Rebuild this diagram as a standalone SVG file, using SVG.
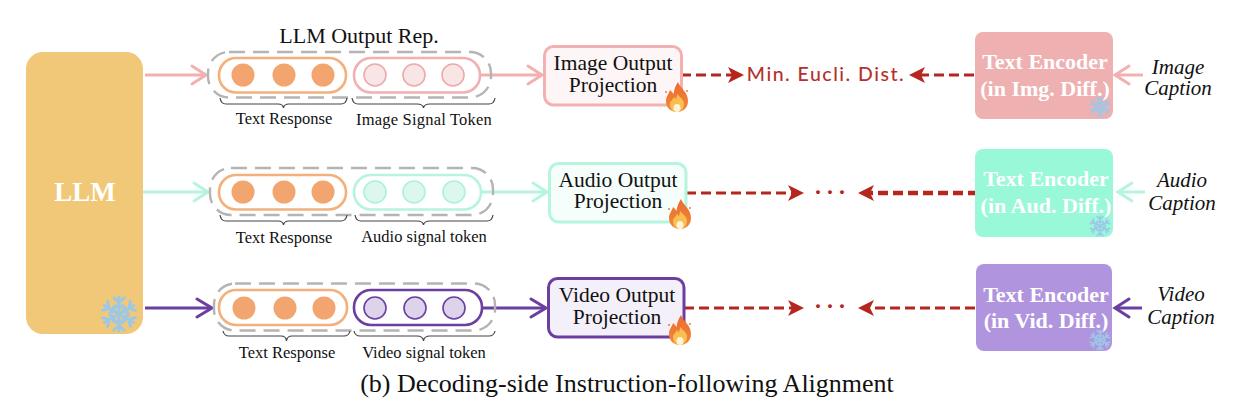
<svg xmlns="http://www.w3.org/2000/svg" width="1250" height="420" viewBox="0 0 1250 420">
<style>
text{font-family:"Liberation Serif","Times New Roman",serif;fill:#111}
.t{font-size:21.5px;text-anchor:middle}
.lbl{font-size:16.5px;text-anchor:middle}
.cap{font-size:21px;font-style:italic;text-anchor:middle}
.enc{font-size:22px;font-weight:bold;fill:#fff;text-anchor:middle}
.outer{fill:none;stroke:#b4b4b4;stroke-width:2.4;stroke-dasharray:16 8}
.pill{fill:#fff;stroke-width:2.6}
.tp{stroke:#f4b07c}.td{fill:#f2a56e}
.brace{fill:none;stroke:#444;stroke-width:1.2}
.p{stroke:#f2b0b0}.pd{fill:#f8e6e6;stroke:#eea9a9;stroke-width:1.6}
.g{stroke:#b4f5dc}.gd{fill:#dcf7ef;stroke:#abf2da;stroke-width:1.6}
.v{stroke:#6a3fa0}.vd{fill:#ddd4ec;stroke:#6a3fa0;stroke-width:1.6}
.box{stroke-width:3}
.ar{fill:none;stroke-width:3}
.rd{fill:none;stroke:#b5261e;stroke-width:3.2;stroke-dasharray:10 5}
.dots{font-size:24px;fill:#b5261e;text-anchor:middle;font-weight:bold;letter-spacing:4px}
.chev{fill:none;stroke-width:3;stroke-linecap:round}
.rh{fill:#b5261e}
.sf{fill:none;stroke:#9cc8e8;stroke-linecap:round}
</style>
<defs>
<g id="snow">
<g id="arm"><path d="M0 0V-10M0 -6.500L-3 -9.500M0 -6.500L3 -9.500M0 -3L-2 -5M0 -3L2 -5"/></g>
<use href="#arm" transform="rotate(60)"/><use href="#arm" transform="rotate(120)"/><use href="#arm" transform="rotate(180)"/><use href="#arm" transform="rotate(240)"/><use href="#arm" transform="rotate(300)"/>
</g>
<linearGradient id="fl" x1="0" y1="0" x2="0" y2="1"><stop offset="0" stop-color="#ee6a2c"/><stop offset="1" stop-color="#f08a3c"/></linearGradient>
<g id="fire">
<path d="M1 -16C3 -10 11 -6 11 3C11 10 6 14 0 14C-6 14 -11 10 -11 3C-11 -2 -8 -4 -7 -8C-5 -6 -4 -5 -3.500 -4C-3 -9 -1 -13 1 -16Z" fill="url(#fl)"/>
<path d="M0.500 -4C2 -1 7 1 7 6C7 11 3 14 0 14C-4 14 -7 11 -7 6C-7 3 -4 2 -3 -1C-2 0 -1 1 -1 2C-1 0 0 -2 .5 -4Z" fill="#f9bf4f"/>
<ellipse cx="0" cy="10" rx="3.500" ry="4" fill="#fdf3d8"/>
<circle cx="-11" cy="-6" r="1" fill="#ee7a40"/><circle cx="10" cy="-7" r="1" fill="#ee7a40"/>
</g>
<g id="tdots"><circle cx="243" cy="0" r="11.500" class="td"/><circle cx="284" cy="0" r="11.500" class="td"/><circle cx="323" cy="0" r="11.500" class="td"/></g>
</defs>

<g id="connectors">
<path class="ar p" d="M145 75H205"/><path class="chev p" d="M192 66L206 75L192 84"/>
<path class="ar p" d="M481 75H541"/><path class="chev p" d="M528 66L542 75L528 84"/>
<path class="ar g" d="M143 192H207"/><path class="chev g" d="M194 183L208 192L194 201"/>
<path class="ar g" d="M481 192H546"/><path class="chev g" d="M533 183L547 192L533 201"/>
<path class="ar v" d="M145 308H211"/><path class="chev v" d="M197 299L212 308L197 317"/>
<path class="ar v" d="M482 308H545"/><path class="chev v" d="M531 299L546 308L531 317"/>
<path class="ar p" d="M1143 75H1117"/><path class="chev p" d="M1129 66L1115 75L1129 84"/>
<path class="ar g" d="M1145 192H1120"/><path class="chev g" d="M1132 183L1118 192L1132 201"/>
<path class="ar v" d="M1142 308H1117"/><path class="chev v" d="M1129 299L1115 308L1129 317"/>

<path class="rd" d="M681 75H733"/><path class="rh" d="M744 75L728 67L732 75L728 83Z"/>
<path class="rd" d="M974 75H920"/><path class="rh" d="M909 75L925 67L921 75L925 83Z"/>
<path class="rd" d="M686 193H795"/><path class="rh" d="M804 193L788 185L792 193L788 201Z"/>
<path class="rd" style="stroke-width:4.500" d="M978 193H868"/><path class="rh" d="M858 193L874 185L870 193L874 201Z"/>
<path class="rd" d="M684 308H795"/><path class="rh" d="M804 308L788 300L792 308L788 316Z"/>
<path class="rd" d="M975 308H868"/><path class="rh" d="M858 308L874 300L870 308L874 316Z"/>
</g>

<g id="llm">
<rect x="26" y="52" width="117" height="282" rx="17" fill="#f0c878"/>
<text x="85" y="201" text-anchor="middle" style="font-size:27px;font-weight:bold;fill:#fff">LLM</text>
<use href="#snow" class="sf" style="stroke-width:1.700" transform="translate(119 314) scale(1.700)"/>
</g>

<g id="rep-image">
<text x="359" y="43" text-anchor="middle" style="font-size:22px">LLM Output Rep.</text>
<rect class="outer" x="208" y="52" width="283" height="45.500" rx="21"/>
<rect class="pill tp" x="219" y="58" width="127" height="34.500" rx="17"/>
<use href="#tdots" y="75"/>
<rect class="pill p" x="354" y="58" width="126" height="34.500" rx="17"/>
<circle class="pd" cx="375" cy="75" r="11"/><circle class="pd" cx="414" cy="75" r="11"/><circle class="pd" cx="453" cy="75" r="11"/>
<path class="brace" d="M220 98Q221 104 226 104H278Q283 104 283.500 108Q284 104 289 104H341Q346 104 347 98M352 98Q353 104 358 104H417Q423 104 423.500 108Q424 104 430 104H489Q494 104 495 98"/>
<text class="lbl" x="284" y="124">Text Response</text>
<text class="lbl" x="424" y="125" style="letter-spacing:.2px">Image Signal Token</text>
</g>

<g id="rep-audio">
<rect class="outer" x="210" y="168" width="283" height="47" rx="21"/>
<rect class="pill tp" x="219" y="175" width="127" height="34.500" rx="17"/>
<use href="#tdots" y="192"/>
<rect class="pill g" x="354" y="175" width="127" height="34.500" rx="17"/>
<circle class="gd" cx="375" cy="192" r="11"/><circle class="gd" cx="414" cy="192" r="11"/><circle class="gd" cx="454" cy="192" r="11"/>
<path class="brace" d="M220 215Q221 221 226 221H278Q283 221 283.500 225Q284 221 289 221H341Q346 221 347 215M355 215Q356 221 361 221H417Q423 221 423.500 225Q424 221 430 221H487Q492 221 493 215"/>
<text class="lbl" x="284" y="243">Text Response</text>
<text class="lbl" x="424" y="242">Audio signal token</text>
</g>

<g id="rep-video">
<rect class="outer" x="214" y="283.500" width="281" height="47" rx="21"/>
<rect class="pill tp" x="219" y="290" width="128" height="35" rx="17"/>
<use href="#tdots" x="1" y="308"/>
<rect class="pill v" x="354" y="290" width="128" height="35" rx="17"/>
<circle class="vd" cx="375" cy="308" r="11"/><circle class="vd" cx="415" cy="308" r="11"/><circle class="vd" cx="454" cy="308" r="11"/>
<path class="brace" d="M223 331Q224 336 229 336H281Q286 336 286.500 341Q287 336 292 336H344Q349 336 350 331M354 331Q355 336 360 336H417Q423 336 423.500 341Q424 336 430 336H489Q494 336 495 331"/>
<text class="lbl" x="287" y="358">Text Response</text>
<text class="lbl" x="424" y="358">Video signal token</text>
</g>

<g id="proj-image">
<rect class="box p" x="544.500" y="46.500" width="137" height="58.500" rx="9" fill="#fef6f6"/>
<text class="t" x="613" y="70">Image Output</text><text class="t" x="613" y="92">Projection</text>
<use href="#fire" transform="translate(677 98)"/>
</g>
<g id="proj-audio">
<rect class="box g" x="549.500" y="163.500" width="136.500" height="58.500" rx="9" fill="#f5fefa"/>
<text class="t" x="618" y="187">Audio Output</text><text class="t" x="618" y="208">Projection</text>
<use href="#fire" transform="translate(680 215)"/>
</g>
<g id="proj-video">
<rect class="box v" x="548.500" y="278.500" width="135.500" height="58.500" rx="9" fill="#f4f0fa"/>
<text class="t" x="617" y="302">Video Output</text><text class="t" x="617" y="324">Projection</text>
<use href="#fire" transform="translate(680 331)"/>
</g>

<g id="loss-image"><text x="826" y="81" text-anchor="middle" style="font-family:'Lato','DejaVu Sans',sans-serif;font-size:19.500px;font-weight:500;fill:#b5312c;letter-spacing:1.500px">Min. Eucli. Dist.</text></g>
<g id="loss-audio"><text class="dots" x="832" y="200">···</text></g>
<g id="loss-video"><text class="dots" x="832" y="314">···</text></g>

<g id="enc-image">
<rect x="975" y="32" width="138" height="87" rx="8" fill="#eeb0b0"/>
<text class="enc" x="1045" y="69">Text Encoder</text><text class="enc" x="1045" y="96">(in Img. Diff.)</text>
<use href="#snow" class="sf" style="stroke-width:1.500" transform="translate(1100 107)"/>
</g>
<g id="enc-audio">
<rect x="975" y="149" width="138" height="88" rx="8" fill="#99f8d8"/>
<text class="enc" x="1046" y="186">Text Encoder</text><text class="enc" x="1046" y="213">(in Aud. Diff.)</text>
<use href="#snow" class="sf" style="stroke-width:1.500" transform="translate(1100 226)"/>
</g>
<g id="enc-video">
<rect x="976" y="264" width="136" height="87" rx="8" fill="#b095de"/>
<text class="enc" x="1046" y="302">Text Encoder</text><text class="enc" x="1046" y="328">(in Vid. Diff.)</text>
<use href="#snow" class="sf" style="stroke-width:1.500" transform="translate(1100 340)"/>
</g>

<g id="caption-image"><text class="cap" x="1178" y="74">Image</text><text class="cap" x="1178" y="95">Caption</text></g>
<g id="caption-audio"><text class="cap" x="1182" y="187">Audio</text><text class="cap" x="1182" y="210">Caption</text></g>
<g id="caption-video"><text class="cap" x="1181" y="301">Video</text><text class="cap" x="1181" y="324">Caption</text></g>

<text id="title" x="627" y="392" text-anchor="middle" style="font-size:26px">(b) Decoding-side Instruction-following Alignment</text>
</svg>
